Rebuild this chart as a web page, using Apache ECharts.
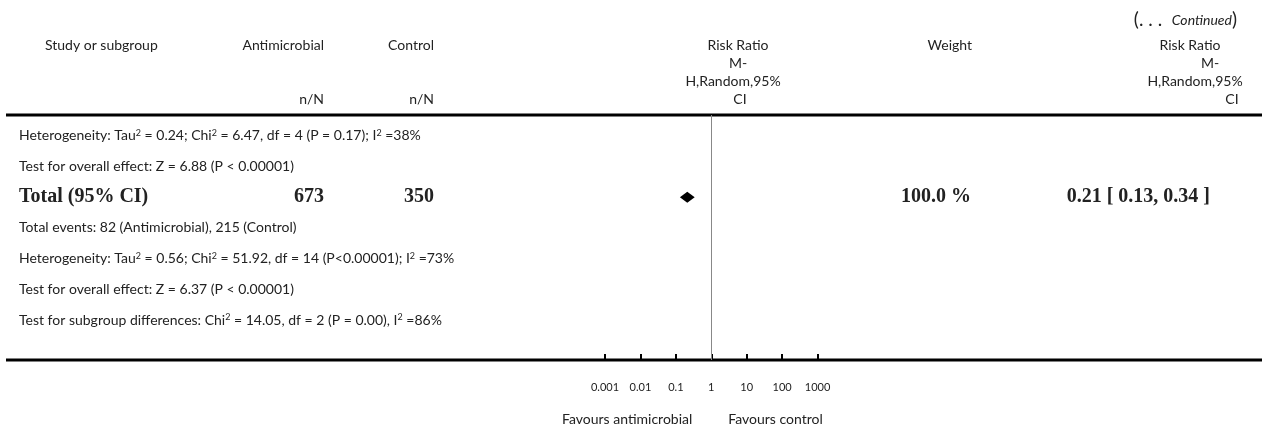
<!DOCTYPE html>
<html>
<head>
<meta charset="utf-8">
<script src="https://cdn.jsdelivr.net/npm/echarts@6/dist/echarts.min.js"></script>
<style>
  html, body { margin: 0; padding: 0; background: #fff; }
  #chart_block { width: 1266px; height: 429px; }
</style>
</head>
<body>
<div id="chart_block"></div>
<script>
// rows under the header rule, top to bottom
var rowLabels = [
  'Heterogeneity: Tau{s|2} = 0.24; Chi{s|2} = 6.47, df = 4 (P = 0.17); I{s|2} =38%',
  'Test for overall effect: Z = 6.88 (P < 0.00001)',
  'Total (95% CI)',
  'Total events: 82 (Antimicrobial), 215 (Control)',
  'Heterogeneity: Tau{s|2} = 0.56; Chi{s|2} = 51.92, df = 14 (P<0.00001); I{s|2} =73%',
  'Test for overall effect: Z = 6.37 (P < 0.00001)',
  'Test for subgroup differences: Chi{s|2} = 14.05, df = 2 (P = 0.00), I{s|2} =86%'
];
var totalRow = 2;
var totalN = [673, 350];
var totalWeight = '100.0 %';
var totalRR = [0.21, 0.13, 0.34];   // estimate, lower, upper

var tickValues = [0.001, 0.01, 0.1, 1, 10, 100, 1000];
var tickLabels = ['0.001', '0.01', '0.1', '1', '10', '100', '1000'];
var favours = ['Favours antimicrobial', 'Favours control'];

var font = '14px Lato';
var bold = 'bold 20px "Liberation Serif"';
var ink = '#222';

var chartDom = document.getElementById('chart_block');
var myChart = echarts.init(chartDom);

var options = {
  animation: false,
  grid: { left: 605, width: 212.6, top: 115, bottom: 69 },
  xAxis: {
    type: 'log',
    logBase: 10,
    min: tickValues[0],
    max: tickValues[tickValues.length - 1],
    position: 'bottom',
    axisLine: { show: false, onZero: false },
    axisTick: { show: true, inside: true, length: 6, lineStyle: { color: '#000', width: 2 } },
    splitLine: { show: false },
    axisLabel: {
      margin: 22,
      fontFamily: 'Lato',
      fontSize: 11,
      color: ink,
      formatter: function (v) {
        var i = Math.round(Math.log10(v)) + 3;
        return tickLabels[i] || '';
      }
    }
  },
  yAxis: {
    type: 'value',
    inverse: true,
    min: -0.68,
    max: 7.3,
    show: false
  },
  series: [
    {
      type: 'custom',
      data: [[totalRR[0], totalRR[1], totalRR[2], totalRow]],
      renderItem: function (params, api) {
        var est = api.coord([api.value(0), api.value(3)]);
        var lo = api.coord([api.value(1), api.value(3)]);
        var hi = api.coord([api.value(2), api.value(3)]);
        var h = 5.5;
        return {
          type: 'polygon',
          shape: { points: [[lo[0], lo[1]], [est[0], est[1] - h], [hi[0], hi[1]], [est[0], est[1] + h]] },
          style: { fill: '#000' }
        };
      },
      markLine: {
        silent: true,
        symbol: 'none',
        label: { show: false },
        lineStyle: { color: '#888', width: 1, type: 'solid' },
        data: [{ xAxis: 1 }]
      }
    }
  ]
};

myChart.setOption(options);

// table text, placed on the same row scale as the plot
function rowY(i) { return myChart.convertToPixel({ yAxisIndex: 0 }, i); }
var x1 = myChart.convertToPixel({ xAxisIndex: 0 }, 1);
var axisY = 360;

var g = [];
function txt(s, x, y, align, f, extra) {
  var st = { text: s, x: x, y: y, font: f || font, fill: ink, textAlign: align || 'left', textVerticalAlign: 'middle',
    rich: { s: { fontSize: 9, fontFamily: 'Lato', fill: ink, verticalAlign: 'top' } } };
  g.push({ type: 'text', silent: true, style: Object.assign(st, extra || {}) });
}

// header
txt('(. . .  {i|Continued})', 1237, 20, 'right', '19px Lato', { rich: { i: { fontStyle: 'italic', fontSize: 14, fontFamily: 'Lato', fill: ink } } });
txt('Study or subgroup', 45, 45, 'left');
txt('Antimicrobial', 324, 45, 'right');
txt('Control', 434, 45, 'right');
txt('n/N', 324, 99, 'right');
txt('n/N', 434, 99, 'right');
txt('Risk Ratio', 738, 45, 'center');
txt('M-', 738, 63, 'center');
txt('H,Random,95%', 733, 81, 'center');
txt('CI', 740, 99, 'center');
txt('Weight', 972, 45, 'right');
txt('Risk Ratio', 1190, 45, 'center');
txt('M-', 1210, 63, 'center');
txt('H,Random,95%', 1195, 81, 'center');
txt('CI', 1232, 99, 'center');

// rules
g.push({ type: 'line', silent: true, shape: { x1: 6, y1: 115, x2: 1262, y2: 115 }, style: { stroke: '#000', lineWidth: 3 } });
g.push({ type: 'line', silent: true, shape: { x1: 6, y1: axisY, x2: 1262, y2: axisY }, style: { stroke: '#000', lineWidth: 3 } });

// rows
rowLabels.forEach(function (s, i) {
  if (i === totalRow) {
    txt(s, 19, rowY(i), 'left', bold);
    txt(String(totalN[0]), 324, rowY(i), 'right', bold);
    txt(String(totalN[1]), 434, rowY(i), 'right', bold);
    txt(totalWeight, 971, rowY(i), 'right', bold);
    txt(totalRR[0].toFixed(2) + ' [ ' + totalRR[1].toFixed(2) + ', ' + totalRR[2].toFixed(2) + ' ]', 1210, rowY(i), 'right', bold);
  } else {
    txt(s, 19, rowY(i), 'left');
  }
});

// favours labels
txt(favours[0], x1 - 19, 419, 'right', '14px Lato');
txt(favours[1], x1 + 17, 419, 'left', '14px Lato');

myChart.setOption({ graphic: g });
</script>
</body>
</html>
